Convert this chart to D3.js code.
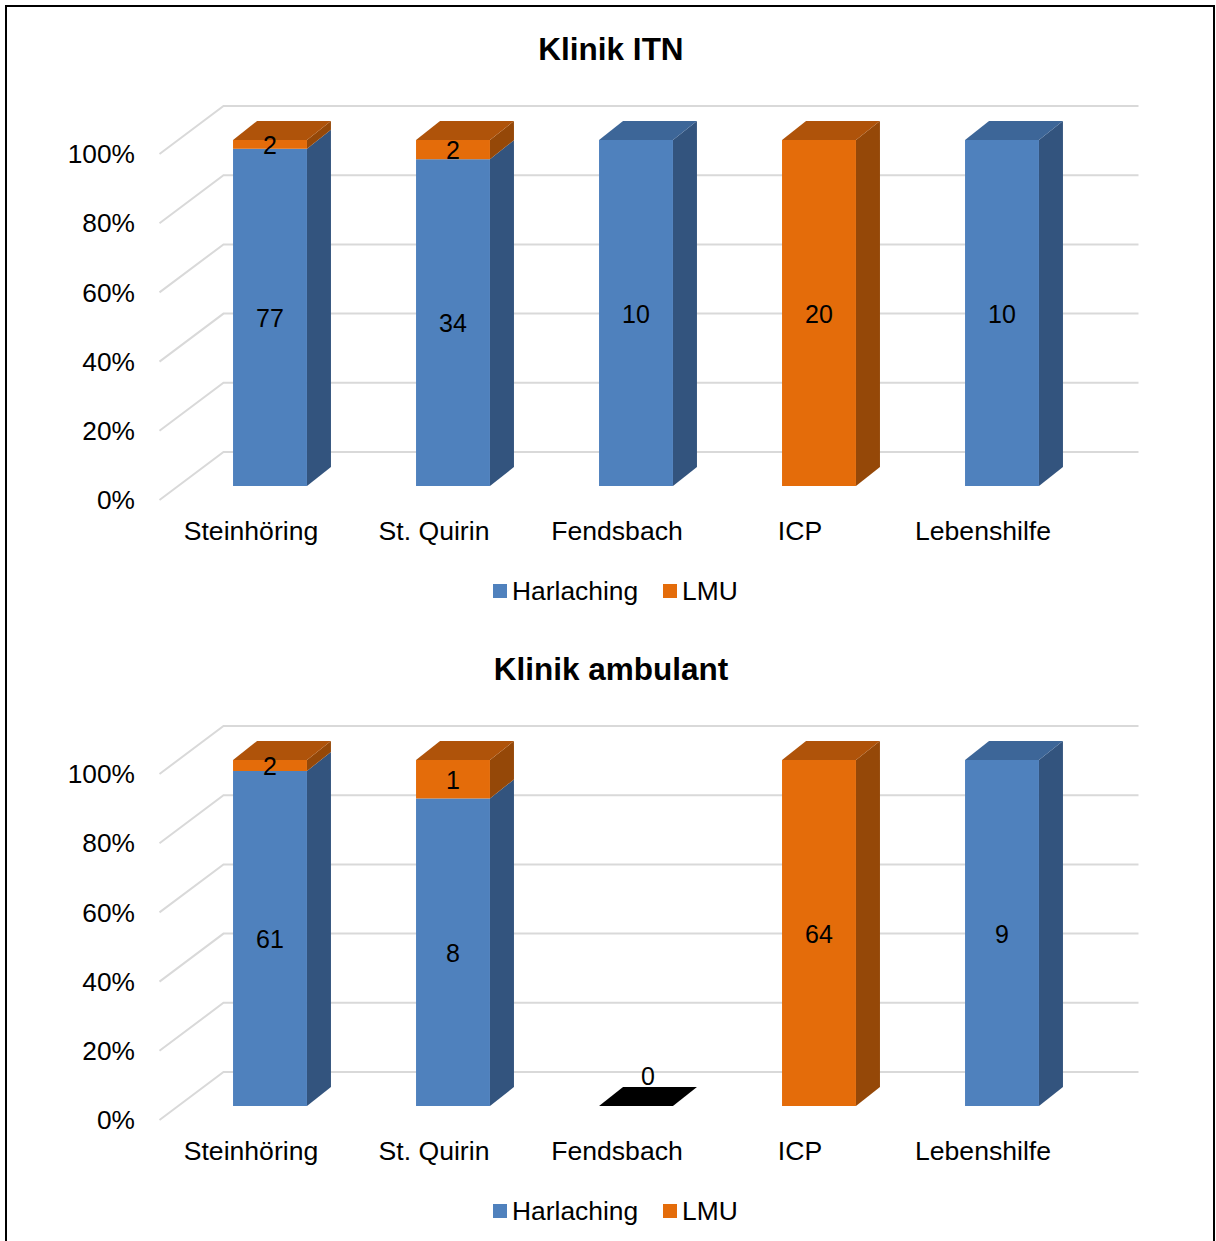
<!DOCTYPE html>
<html><head><meta charset="utf-8">
<script src="https://cdn.jsdelivr.net/npm/d3@7"></script>
<style>
html,body{margin:0;padding:0;background:#fff;}
svg{display:block;font-family:"Liberation Sans",Arial,sans-serif;}
</style></head>
<body>
<svg id="c" width="1216" height="1241"></svg>
<script>
const categories = ["Steinhöring", "St. Quirin", "Fendsbach", "ICP", "Lebenshilfe"];
const seriesNames = ["Harlaching", "LMU"];
const itnHarlaching = [77, 34, 10, 0, 10];
const itnLMU = [2, 2, 0, 20, 0];
const ambHarlaching = [61, 8, 0, 0, 9];
const ambLMU = [2, 1, 0, 64, 0];
const yTicks = [0, 0.2, 0.4, 0.6, 0.8, 1.0];
const titles = ["Klinik ITN", "Klinik ambulant"];

const colors = {
  Harlaching: {front: "#4F81BD", side: "#33547E", top: "#3D6698"},
  LMU: {front: "#E46C0A", side: "#954808", top: "#AF530A"}
};

const svg = d3.select("#c");
svg.append("rect").attr("x", 6).attr("y", 6).attr("width", 1208).attr("height", 1260)
  .attr("fill", "#fff").attr("stroke", "#000").attr("stroke-width", 2);

const BAR_D = [24, -19];   // bar depth offset
const WALL_D = [45, -34];  // back wall offset
const FLOOR_D = [-19, 14]; // front floor offset

function drawChart(g, title, harl, lmu) {
  const x = d3.scaleBand().domain(categories).range([178.5, 1093.5])
    .paddingInner(0.596).paddingOuter(0.298);
  const y = d3.scaleLinear().domain([0, 1]).range([486, 140]);
  const [x0, x1] = x.range();

  g.append("text").attr("x", 611).attr("y", 49).attr("text-anchor", "middle")
    .attr("dy", "0.35em").attr("font-size", 31.5).attr("font-weight", "bold").text(title);

  // grid
  const grid = g.append("g").attr("stroke", "#D9D9D9").attr("stroke-width", 2).attr("fill", "none");
  yTicks.forEach(t => {
    const yy = y(t);
    grid.append("path").attr("d",
      `M${x0 + FLOOR_D[0]},${yy + FLOOR_D[1]}L${x0 + WALL_D[0]},${yy + WALL_D[1]}L${x1 + WALL_D[0]},${yy + WALL_D[1]}`);
  });
  // y tick labels
  g.append("g").selectAll("text").data(yTicks).join("text")
    .attr("x", 135).attr("y", d => y(d) + FLOOR_D[1]).attr("dy", "0.35em")
    .attr("text-anchor", "end").attr("font-size", 26.3).attr("fill", "#000")
    .text(d => d3.format(".0%")(d));
  // category labels
  g.append("g").selectAll("text").data(categories).join("text")
    .attr("x", d => x(d) + x.bandwidth() / 2 + FLOOR_D[0])
    .attr("y", y(0) + 45).attr("dy", "0.35em")
    .attr("text-anchor", "middle").attr("font-size", 26.6).attr("fill", "#000").text(d => d);

  const bw = x.bandwidth();
  const bars = g.append("g");
  categories.forEach((c, i) => {
    const vals = [harl[i], lmu[i]];
    const total = vals[0] + vals[1];
    const bx = x(c);
    if (total === 0) {
      const yy = y(0);
      bars.append("path").attr("fill", "#000").attr("d",
        `M${bx},${yy}L${bx + bw},${yy}L${bx + bw + BAR_D[0]},${yy + BAR_D[1]}L${bx + BAR_D[0]},${yy + BAR_D[1]}Z`);
      bars.append("text").attr("x", bx + bw / 2 + BAR_D[0] / 2).attr("y", yy + BAR_D[1] / 2 - 21)
        .attr("dy", "0.38em").attr("text-anchor", "middle").attr("font-size", 25).text("0");
      return;
    }
    let cum = 0;
    const segs = [];
    vals.forEach((v, k) => {
      if (v > 0) segs.push({name: seriesNames[k], v, lo: cum / total, hi: (cum + v) / total});
      cum += v;
    });
    segs.forEach((s, k) => {
      const col = colors[s.name];
      const yb = y(s.lo), yt = y(s.hi);
      bars.append("path").attr("fill", col.side).attr("d",
        `M${bx + bw},${yb}L${bx + bw + BAR_D[0]},${yb + BAR_D[1]}L${bx + bw + BAR_D[0]},${yt + BAR_D[1]}L${bx + bw},${yt}Z`);
      bars.append("rect").attr("x", bx).attr("y", yt).attr("width", bw).attr("height", yb - yt)
        .attr("fill", col.front);
      if (k === segs.length - 1) {
        bars.append("path").attr("fill", col.top).attr("d",
          `M${bx},${yt}L${bx + bw},${yt}L${bx + bw + BAR_D[0]},${yt + BAR_D[1]}L${bx + BAR_D[0]},${yt + BAR_D[1]}Z`);
      }
    });
    segs.forEach(s => {
      bars.append("text").attr("x", bx + bw / 2).attr("y", (y(s.lo) + y(s.hi)) / 2)
        .attr("dy", "0.38em").attr("text-anchor", "middle").attr("font-size", 25).attr("fill", "#000")
        .text(s.v);
    });
  });

  // legend
  const lg = g.append("g");
  const legX = [493, 663];
  seriesNames.forEach((n, k) => {
    lg.append("rect").attr("x", legX[k]).attr("y", 584).attr("width", 14).attr("height", 14)
      .attr("fill", colors[n].front);
    lg.append("text").attr("x", legX[k] + 19).attr("y", 591).attr("dy", "0.35em")
      .attr("font-size", 26.4).attr("fill", "#000").text(n);
  });
}

drawChart(svg.append("g"), titles[0], itnHarlaching, itnLMU);
drawChart(svg.append("g").attr("transform", "translate(0,620)"), titles[1], ambHarlaching, ambLMU);
</script>
</body></html>
